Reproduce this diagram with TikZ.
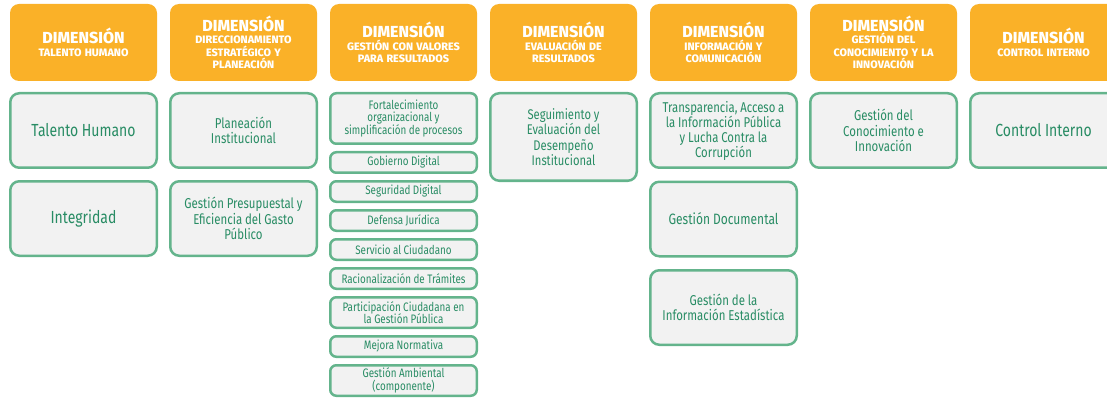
\documentclass[tikz,border=0pt]{standalone}
\usepackage{fontspec}
\setmainfont[FakeStretch=0.8]{Fira Sans}
\newfontfamily\headfont{Fira Sans}[BoldFont={Fira Sans ExtraBold}]
\usepackage{xcolor}
\definecolor{dimOrange}{RGB}{250,177,40}
\definecolor{polGreen}{RGB}{100,180,140}
\definecolor{polText}{RGB}{40,140,100}
\definecolor{polGray}{RGB}{242,242,242}
\usepackage{tikz}
\usetikzlibrary{positioning}
\newcommand{\dimsub}{\fontsize{10.8}{12.5}\selectfont\spaceskip=.3em\relax}

\begin{document}
\begin{tikzpicture}[
  dim/.style={fill=dimOrange, rounded corners=9pt, minimum width=147pt, minimum height=77pt,
              inner sep=0pt, outer sep=0pt, text width=145pt, align=center, text=white,
              font=\headfont\fontsize{16}{16}\selectfont\bfseries},
  pol/.style={draw=polGreen, line width=2.5pt, fill=polGray, rounded corners=9pt,
              minimum width=146.5pt, minimum height=74.5pt, inner sep=0pt,
              text width=144pt, align=center, text=polText,
              execute at begin node={\spaceskip=.2em\relax}},
  polbig/.style={pol, font=\fontsize{17.5}{18}\selectfont},
  polmid/.style={pol, font=\fontsize{14.3}{15.7}\selectfont},
  polsub/.style={pol, rounded corners=6pt, minimum height=20.5pt, font=\fontsize{12.3}{12.5}\selectfont},
  polsubtwo/.style={polsub, minimum height=30.5pt}
]
  \clip (0,0) rectangle (1107pt,-398pt);

  % dimension headers
  \node[dim] (d1) at (83.5pt,-42.5pt) {DIMENSIÓN\\\dimsub TALENTO HUMANO\par};
  \node[dim, right=13pt of d1] (d2) {DIMENSIÓN\\\dimsub DIRECCIONAMIENTO\\ESTRATÉGICO Y\\PLANEACIÓN\par};
  \node[dim, right=13pt of d2] (d3) {DIMENSIÓN\\\dimsub GESTIÓN CON VALORES\\PARA RESULTADOS\par};
  \node[dim, right=13pt of d3] (d4) {DIMENSIÓN\\\dimsub EVALUACIÓN DE\\RESULTADOS\par};
  \node[dim, right=13pt of d4] (d5) {DIMENSIÓN\\\dimsub INFORMACIÓN Y\\COMUNICACIÓN\par};
  \node[dim, right=13pt of d5] (d6) {DIMENSIÓN\\\dimsub GESTIÓN DEL\\CONOCIMIENTO Y LA\\INNOVACIÓN\par};
  \node[dim, right=13pt of d6] (d7) {DIMENSIÓN\\\dimsub CONTROL INTERNO\par};

  % talento humano
  \node[polbig, below=11pt of d1]  (th1) {Talento Humano};
  \node[polbig, below=11pt of th1] (th2) {Integridad};

  % direccionamiento
  \node[polmid, below=11pt of d2]  (dp1) {Planeación\\Institucional};
  \node[polmid, below=11pt of dp1] (dp2) {Gestión Presupuestal y\\Eficiencia del Gasto\\Público};

  % gestion con valores
  \node[polsub, minimum height=50.5pt, below=11pt of d3] (gv1) {Fortalecimiento\\organizacional y\\simplificación de procesos};
  \node[polsub, below=6pt of gv1]    (gv2) {Gobierno Digital};
  \node[polsub, below=6pt of gv2]    (gv3) {Seguridad Digital};
  \node[polsub, below=6pt of gv3]    (gv4) {Defensa Jurídica};
  \node[polsub, below=6pt of gv4]    (gv5) {Servicio al Ciudadano};
  \node[polsub, below=6pt of gv5]    (gv6) {Racionalización de Trámites};
  \node[polsubtwo, below=6pt of gv6] (gv7) {Participación Ciudadana en\\la Gestión Pública};
  \node[polsub, below=6pt of gv7]    (gv8) {Mejora Normativa};
  \node[polsubtwo, below=6pt of gv8] (gv9) {Gestión Ambiental\\(componente)};

  % evaluacion
  \node[pol, minimum height=87.5pt, font=\fontsize{14}{15.5}\selectfont, below=11pt of d4] (ev1)
    {Seguimiento y\\Evaluación del\\Desempeño\\Institucional};

  % informacion y comunicacion
  \node[pol, font=\fontsize{14.2}{15}\selectfont, below=11pt of d5] (ic1)
    {Transparencia, Acceso a\\la Información Pública\\y Lucha Contra la\\Corrupción};
  \node[pol, font=\fontsize{15}{16}\selectfont, below=11.5pt of ic1] (ic2) {Gestión Documental};
  \node[polmid, below=11.5pt of ic2] (ic3) {Gestión de la\\Información Estadística};

  % conocimiento
  \node[polmid, below=11pt of d6] (gc1) {Gestión del\\Conocimiento e\\Innovación};

  % control interno
  \node[polbig, below=11pt of d7] (ci1) {Control Interno};
\end{tikzpicture}
\end{document}
